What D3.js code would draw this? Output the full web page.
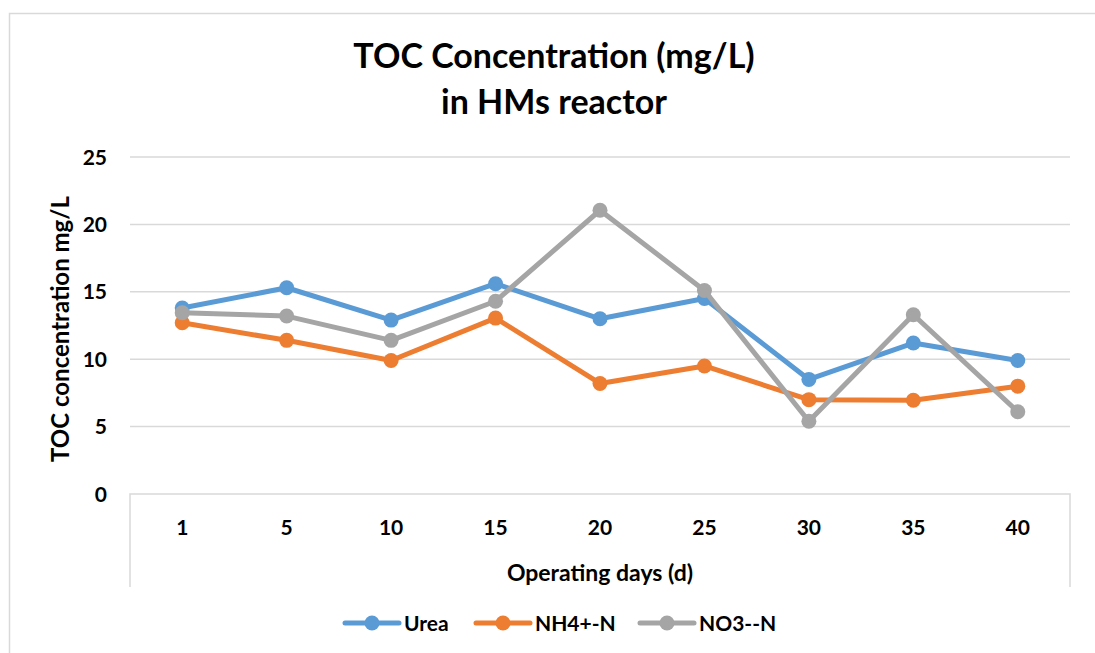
<!DOCTYPE html>
<html>
<head>
<meta charset="utf-8">
<script src="https://cdn.jsdelivr.net/npm/d3@7"></script>
<style>
  body { margin: 0; background: #fff; }
  text { font-family: Lato, "Open Sans", sans-serif; font-weight: bold; fill: #000; }
</style>
</head>
<body>
<div id="chart"></div>
<script>
const days = ['1', '5', '10', '15', '20', '25', '30', '35', '40']
const urea = [13.8, 15.3, 12.9, 15.6, 13.0, 14.5, 8.5, 11.2, 9.9]
const nh4 = [12.7, 11.4, 9.9, 13.05, 8.2, 9.5, 7.0, 6.95, 8.0]
const no3 = [13.45, 13.2, 11.4, 14.3, 21.05, 15.1, 5.4, 13.3, 6.1]
const yTicks = [0, 5, 10, 15, 20, 25]

const seriesNames = ['Urea', 'NH4+-N', 'NO3--N']
const seriesColors = ['#5B9BD5', '#ED7D31', '#A5A5A5']
const series = [urea, nh4, no3].map((v, i) => ({ name: seriesNames[i], color: seriesColors[i], values: v }))

const w = 1095
const h = 653
const plot = { left: 130, right: 1070, top: 157, bottom: 494 }

const svg = d3.select('#chart').append('svg')
  .attr('width', w)
  .attr('height', h)

// chart area border (only top and left show in the crop)
svg.append('path')
  .attr('d', `M9.5,${h} V13.5 H${w}`)
  .attr('fill', 'none')
  .attr('stroke', '#D9D9D9')
  .attr('stroke-width', 1.5)

const x = d3.scaleBand().domain(days).range([plot.left, plot.right])
const y = d3.scaleLinear().domain([0, 25]).range([plot.bottom, plot.top])

// gridlines
svg.append('g')
  .selectAll('line')
  .data(yTicks.slice(1))
  .enter().append('line')
  .attr('x1', plot.left)
  .attr('x2', plot.right)
  .attr('y1', d => y(d))
  .attr('y2', d => y(d))
  .attr('stroke', '#D9D9D9')
  .attr('stroke-width', 1.5)

// category axis: baseline plus the two outer tick lines
svg.append('path')
  .attr('d', `M${plot.left},587 V${plot.bottom} H${plot.right} V587`)
  .attr('fill', 'none')
  .attr('stroke', '#D9D9D9')
  .attr('stroke-width', 1.5)

svg.append('g')
  .selectAll('text')
  .data(yTicks)
  .enter().append('text')
  .attr('x', 107)
  .attr('y', d => y(d))
  .attr('dy', '0.36em')
  .attr('text-anchor', 'end')
  .style('font-size', '21px')
  .text(d => d)

svg.append('g')
  .selectAll('text')
  .data(days)
  .enter().append('text')
  .attr('x', d => x(d) + x.bandwidth() / 2)
  .attr('y', 527)
  .attr('dy', '0.36em')
  .attr('text-anchor', 'middle')
  .style('font-size', '21px')
  .text(d => d)

// titles
svg.append('text')
  .attr('x', 554)
  .attr('y', 68)
  .attr('text-anchor', 'middle')
  .style('font-size', '34px')
  .text('TOC Concentration (mg/L)')
svg.append('text')
  .attr('x', 554)
  .attr('y', 114)
  .attr('text-anchor', 'middle')
  .style('font-size', '34px')
  .text('in HMs reactor')

svg.append('text')
  .attr('x', 600)
  .attr('y', 573)
  .attr('dy', '0.36em')
  .attr('text-anchor', 'middle')
  .style('font-size', '23px')
  .text('Operating days (d)')

svg.append('text')
  .attr('transform', 'translate(69,329) rotate(-90)')
  .attr('text-anchor', 'middle')
  .style('font-size', '24px')
  .text('TOC concentration mg/L')

// lines and markers
let line = d3.line()
  .x((d, i) => x(days[i]) + x.bandwidth() / 2)
  .y(d => y(d))

let g = svg.append('g')
  .selectAll('g')
  .data(series)
  .enter().append('g')

g.append('path')
  .attr('d', d => line(d.values))
  .attr('fill', 'none')
  .attr('stroke', d => d.color)
  .attr('stroke-width', 5)
  .attr('stroke-linejoin', 'round')

g.selectAll('circle')
  .data(d => d.values.map(v => ({ v: v, color: d.color })))
  .enter().append('circle')
  .attr('cx', (d, i) => x(days[i]) + x.bandwidth() / 2)
  .attr('cy', d => y(d.v))
  .attr('r', 7.5)
  .attr('fill', d => d.color)

// legend
const legendX = [345, 476, 640]
let lg = svg.append('g')
  .selectAll('g')
  .data(series)
  .enter().append('g')
  .attr('transform', (d, i) => `translate(${legendX[i]},623)`)

lg.append('line')
  .attr('x1', 0)
  .attr('x2', 54)
  .attr('stroke', d => d.color)
  .attr('stroke-width', 5)
  .attr('stroke-linecap', 'round')
lg.append('circle')
  .attr('cx', 27)
  .attr('r', 7.5)
  .attr('fill', d => d.color)
lg.append('text')
  .attr('x', 59)
  .attr('dy', '0.36em')
  .style('font-size', '21px')
  .text(d => d.name)
</script>
</body>
</html>
